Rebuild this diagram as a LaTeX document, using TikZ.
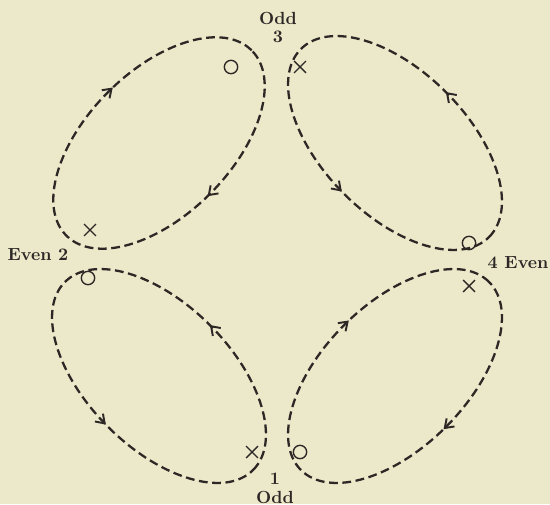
\documentclass[tikz,border=0pt]{standalone}
\usepackage{xcolor}
\usepackage{tikz}
\usetikzlibrary{arrows.meta, decorations.markings, shapes.misc}
\definecolor{paper}{RGB}{236,233,202}
\definecolor{ink}{RGB}{45,40,38}

\begin{document}
\begin{tikzpicture}[
  x=0.02cm, y=0.02cm,
  barb/.style={ink, line width=1.1pt},
  loop/.style={draw=ink, line width=1.3pt, dash pattern=on 5pt off 2.6pt},
  ccwloop/.style={loop, postaction={decorate, solid}, decoration={markings,
      mark=at position 0.25 with {\arrow[barb]{Straight Barb[length=4.6pt, width=6.4pt]}},
      mark=at position 0.745 with {\arrow[barb]{Straight Barb[length=4.6pt, width=6.4pt]}}}},
  cwloop/.style={loop, postaction={decorate, solid}, decoration={markings,
      mark=at position 0.24 with {\arrowreversed[barb]{Straight Barb[length=4.6pt, width=6.4pt]}},
      mark=at position 0.745 with {\arrowreversed[barb]{Straight Barb[length=4.6pt, width=6.4pt]}}}},
  ring/.style={circle, draw=ink, line width=0.8pt, minimum size=7.6pt, inner sep=0pt},
  cross/.style={cross out, draw=ink, line width=0.8pt, minimum size=6pt, inner sep=0pt},
  tag/.style={font=\bfseries, text=ink, inner sep=0pt},
]

% Paper
\fill[paper] (0,0) rectangle (550,504);

% Loop centres
\coordinate (nw) at (159,361);
\coordinate (ne) at (395,361);
\coordinate (sw) at (159,128);
\coordinate (se) at (395,128);

% Loops
\path[cwloop, rotate around={45:(nw)}] (nw) ellipse [x radius=131, y radius=72];
\path[ccwloop, rotate around={-45:(ne)}] (ne) ellipse [x radius=133, y radius=72];
\path[ccwloop, rotate around={-45:(sw)}] (sw) ellipse [x radius=133, y radius=72];
\path[cwloop, rotate around={45:(se)}] (se) ellipse [x radius=133, y radius=72];

% Marks
\node[ring] (nwo) at (231,437) {};
\node[cross] (nwx) at (90,274) {};
\node[cross] (nex) at (300,437) {};
\node[ring] (neo) at (469,261) {};
\node[ring] (swo) at (88,226) {};
\node[cross] (swx) at (252,52) {};
\node[cross] (sex) at (469,218) {};
\node[ring] (seo) at (300,52) {};

% Labels
\node[tag] (odd3) at (278,486) {Odd};
\node[tag] (n3) at (278,467) {3};
\node[tag] (n2) at (38,249) {Even 2};
\node[tag] (n4) at (518,241) {4 Even};
\node[tag] (n1) at (275,25) {1};
\node[tag] (odd1) at (275,7) {Odd};

\end{tikzpicture}
\end{document}
